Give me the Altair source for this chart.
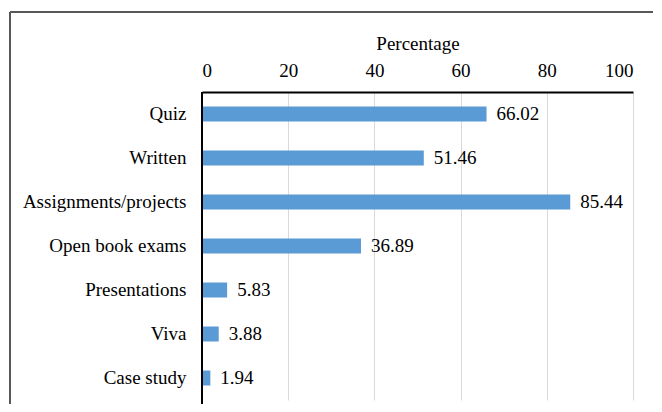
import altair as alt
import pandas as pd

categories = ["Quiz", "Written", "Assignments/projects", "Open book exams",
              "Presentations", "Viva", "Case study"]
values = [66.02, 51.46, 85.44, 36.89, 5.83, 3.88, 1.94]
x_ticks = [0, 20, 40, 60, 80, 100]

df = pd.DataFrame({"category": categories, "value": values,
                   "label": [f"{v:.2f}" for v in values]})

FONT = "Liberation Serif"

y_enc = alt.Y("category:N", sort=categories, title=None,
              scale=alt.Scale(paddingInner=0.66, paddingOuter=0.33),
              axis=alt.Axis(domain=False, ticks=False, tickSize=0, labelPadding=16,
                            labelFont=FONT, labelFontSize=19, labelColor="#000000",
                            grid=False))
x_enc = alt.X("value:Q", title="Percentage",
              scale=alt.Scale(domain=[0, 100], nice=False),
              axis=alt.Axis(orient="top", values=x_ticks, ticks=False, tickSize=0,
                            labelPadding=12, labelFont=FONT, labelFontSize=19,
                            labelColor="#000000", titleFont=FONT, titleFontSize=19,
                            titleFontWeight="normal", titleColor="#000000",
                            titlePadding=8, domainColor="#000000", domainWidth=2,
                            grid=True, gridColor="#d9d9d9", gridWidth=1))

bars = alt.Chart(df).mark_bar(color="#5B9BD5", size=15).encode(x=x_enc, y=y_enc)

labels = alt.Chart(df).mark_text(align="left", baseline="middle", dx=10,
                                 font=FONT, fontSize=19, color="#000000").encode(
    x="value:Q", y=alt.Y("category:N", sort=categories), text="label:N")

# left axis line running to the bottom of the frame
left_axis = alt.Chart(df).mark_rule(color="#000000", strokeWidth=2, clip=False).encode(
    x=alt.value(0), y=alt.value(0), y2=alt.value(325))

# outer chart frame (top and left edges)
frame_top = alt.Chart(df).mark_rule(color="#595959", strokeWidth=1.5, clip=False).encode(
    x=alt.value(-192), x2=alt.value(470), y=alt.value(-80))
frame_left = alt.Chart(df).mark_rule(color="#595959", strokeWidth=1.5, clip=False).encode(
    x=alt.value(-192), y=alt.value(-80), y2=alt.value(325))

chart = alt.layer(bars, labels, left_axis, frame_top, frame_left).properties(
    width=431, height=308,
    autosize=alt.AutoSizeParams(type="none"),
    padding={"left": 194, "top": 84, "right": 20, "bottom": 4},
).configure_view(stroke=None)

chart.save("out.html", embed_options={"renderer": "svg", "actions": False})
